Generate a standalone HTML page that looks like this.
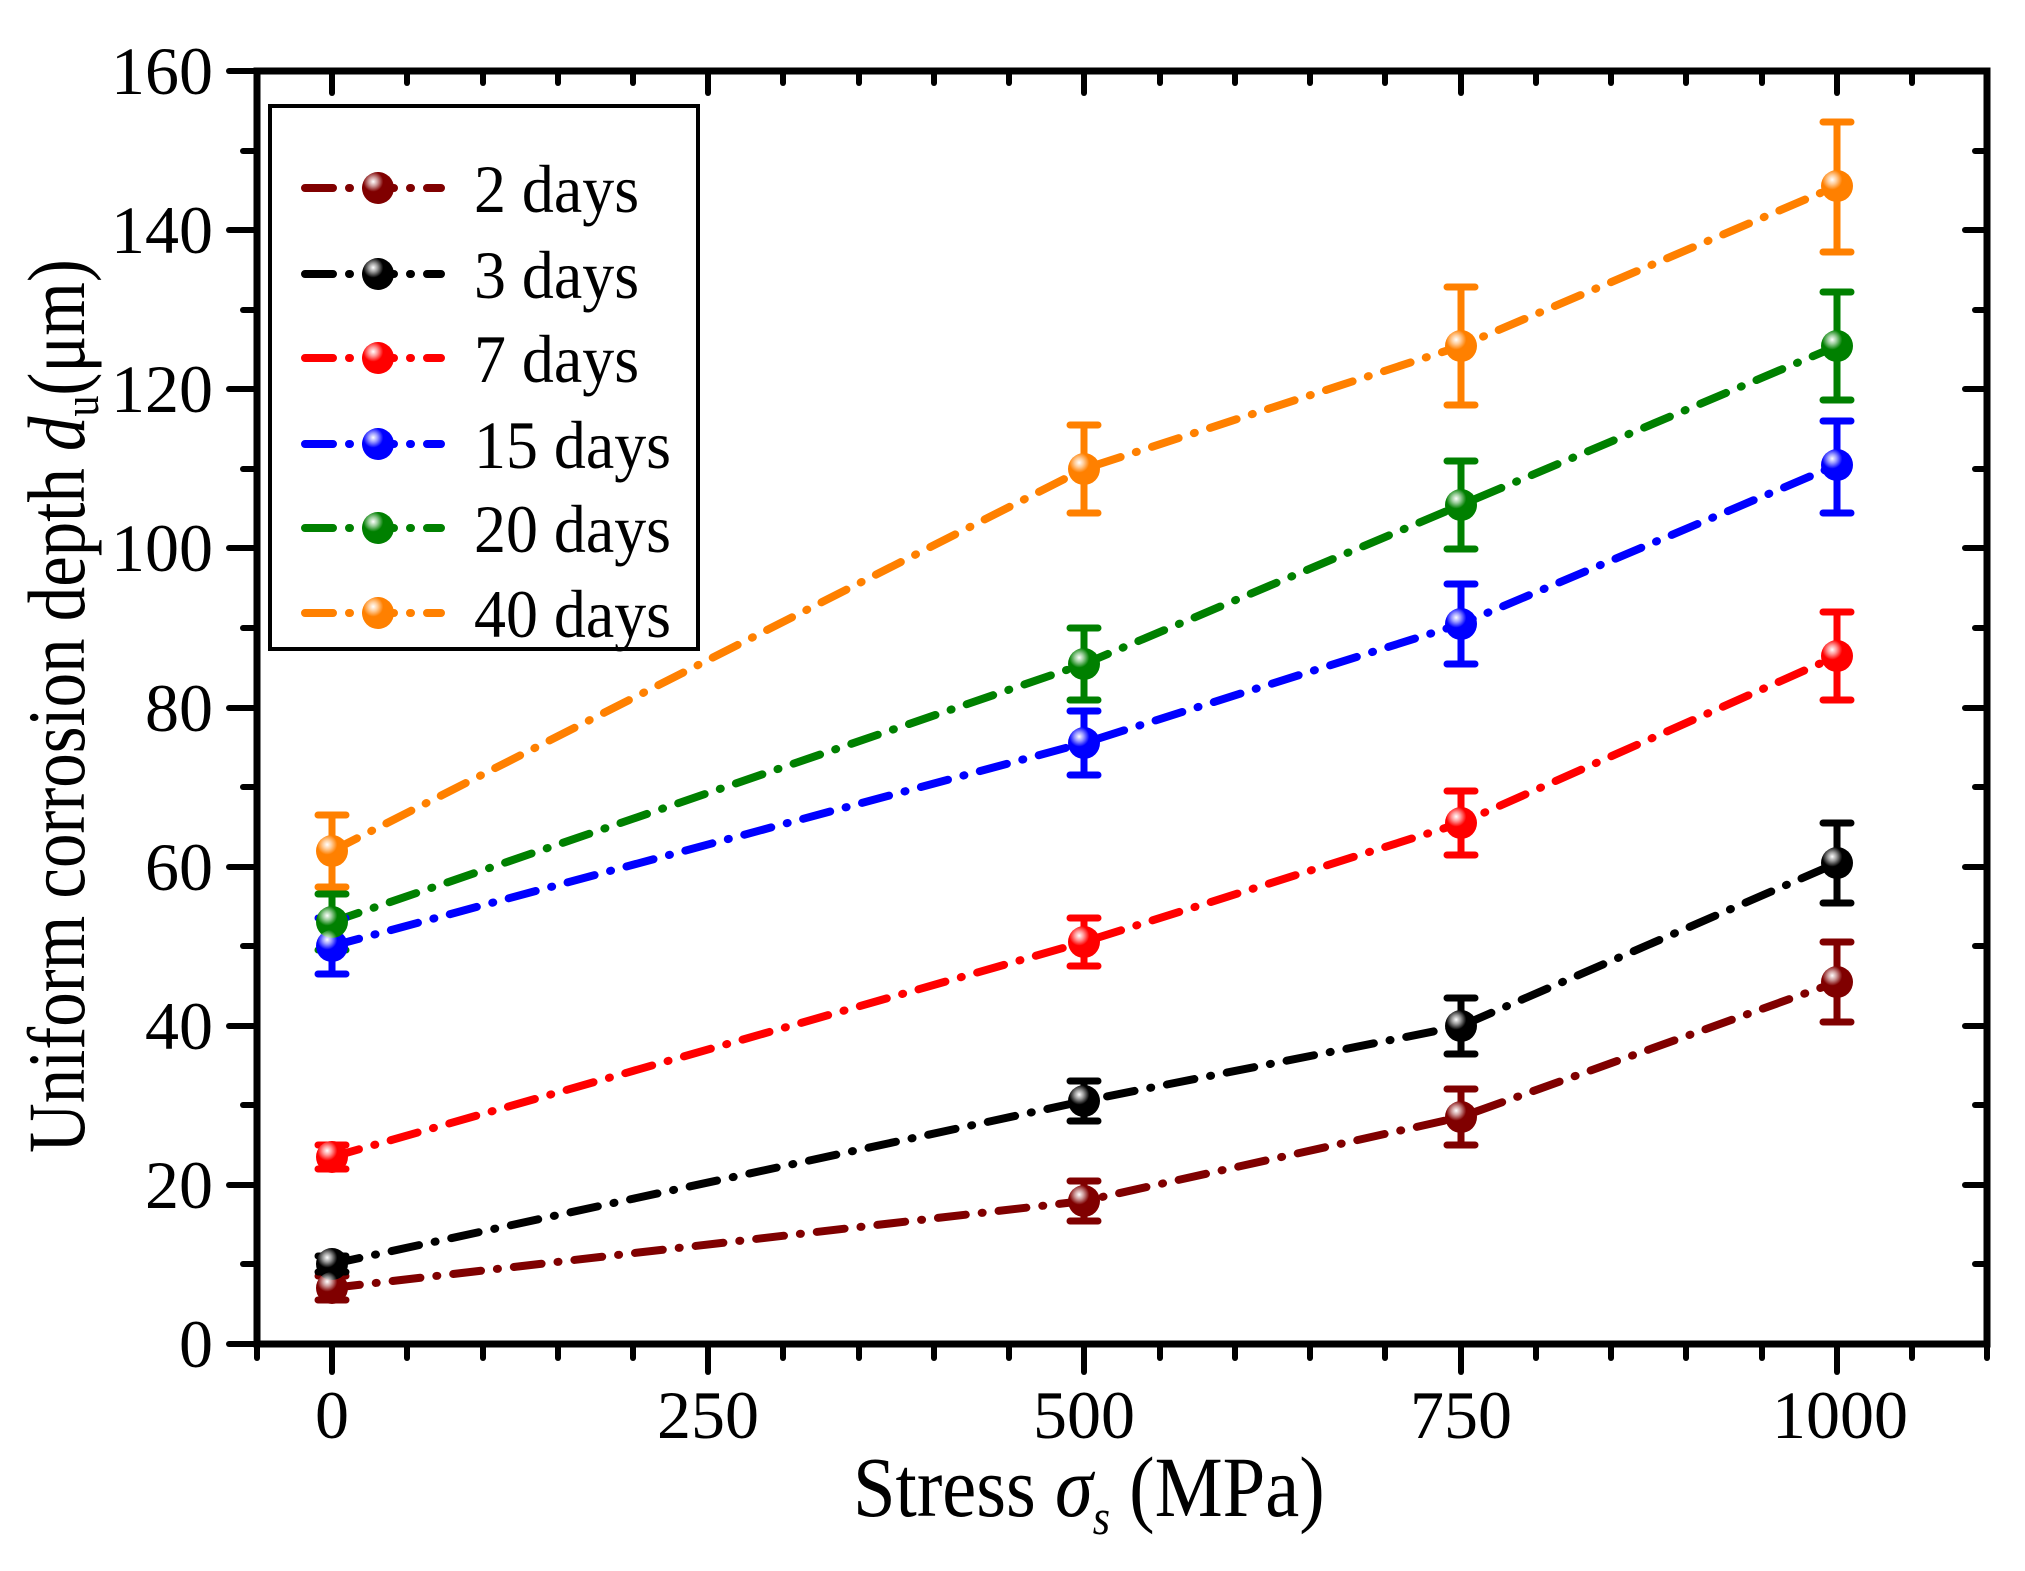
<!DOCTYPE html>
<html><head><meta charset="utf-8"><style>
html,body{margin:0;padding:0;background:#fff;}
svg{display:block;}
text{font-family:"Liberation Serif",serif;fill:#000;}
</style></head><body>
<svg width="2025" height="1571" viewBox="0 0 2025 1571" xmlns="http://www.w3.org/2000/svg">
<defs>
<radialGradient id="hl" cx="0.35" cy="0.3" r="0.7">
<stop offset="0" stop-color="#fff" stop-opacity="1"/>
<stop offset="0.2" stop-color="#fff" stop-opacity="0.6"/>
<stop offset="0.45" stop-color="#fff" stop-opacity="0"/>
</radialGradient>
</defs>
<g stroke="#000" stroke-width="7" fill="none" stroke-linecap="round">
<rect x="257" y="71" width="1730" height="1273"/>
</g>
<g stroke="#000" stroke-width="6" stroke-linecap="round">
<line x1="257" y1="1344" x2="257" y2="1358"/>
<line x1="332" y1="1344" x2="332" y2="1372"/><line x1="407" y1="1344" x2="407" y2="1358"/><line x1="483" y1="1344" x2="483" y2="1358"/><line x1="558" y1="1344" x2="558" y2="1358"/><line x1="633" y1="1344" x2="633" y2="1358"/>
<line x1="708" y1="1344" x2="708" y2="1372"/><line x1="783" y1="1344" x2="783" y2="1358"/><line x1="859" y1="1344" x2="859" y2="1358"/><line x1="934" y1="1344" x2="934" y2="1358"/><line x1="1009" y1="1344" x2="1009" y2="1358"/>
<line x1="1084" y1="1344" x2="1084" y2="1372"/><line x1="1160" y1="1344" x2="1160" y2="1358"/><line x1="1235" y1="1344" x2="1235" y2="1358"/><line x1="1310" y1="1344" x2="1310" y2="1358"/><line x1="1385" y1="1344" x2="1385" y2="1358"/>
<line x1="1461" y1="1344" x2="1461" y2="1372"/><line x1="1536" y1="1344" x2="1536" y2="1358"/><line x1="1611" y1="1344" x2="1611" y2="1358"/><line x1="1686" y1="1344" x2="1686" y2="1358"/><line x1="1762" y1="1344" x2="1762" y2="1358"/>
<line x1="1837" y1="1344" x2="1837" y2="1372"/><line x1="1912" y1="1344" x2="1912" y2="1358"/><line x1="1987" y1="1344" x2="1987" y2="1358"/>
<line x1="332" y1="71" x2="332" y2="93"/><line x1="407" y1="71" x2="407" y2="83"/><line x1="483" y1="71" x2="483" y2="83"/><line x1="558" y1="71" x2="558" y2="83"/><line x1="633" y1="71" x2="633" y2="83"/>
<line x1="708" y1="71" x2="708" y2="93"/><line x1="783" y1="71" x2="783" y2="83"/><line x1="859" y1="71" x2="859" y2="83"/><line x1="934" y1="71" x2="934" y2="83"/><line x1="1009" y1="71" x2="1009" y2="83"/>
<line x1="1084" y1="71" x2="1084" y2="93"/><line x1="1160" y1="71" x2="1160" y2="83"/><line x1="1235" y1="71" x2="1235" y2="83"/><line x1="1310" y1="71" x2="1310" y2="83"/><line x1="1385" y1="71" x2="1385" y2="83"/>
<line x1="1461" y1="71" x2="1461" y2="93"/><line x1="1536" y1="71" x2="1536" y2="83"/><line x1="1611" y1="71" x2="1611" y2="83"/><line x1="1686" y1="71" x2="1686" y2="83"/><line x1="1762" y1="71" x2="1762" y2="83"/>
<line x1="1837" y1="71" x2="1837" y2="93"/><line x1="1912" y1="71" x2="1912" y2="83"/>
<line x1="229" y1="1344" x2="257" y2="1344"/><line x1="243" y1="1264" x2="257" y2="1264"/>
<line x1="229" y1="1185" x2="257" y2="1185"/><line x1="243" y1="1105" x2="257" y2="1105"/>
<line x1="229" y1="1026" x2="257" y2="1026"/><line x1="243" y1="946" x2="257" y2="946"/>
<line x1="229" y1="867" x2="257" y2="867"/><line x1="243" y1="787" x2="257" y2="787"/>
<line x1="229" y1="708" x2="257" y2="708"/><line x1="243" y1="628" x2="257" y2="628"/>
<line x1="229" y1="548" x2="257" y2="548"/><line x1="243" y1="469" x2="257" y2="469"/>
<line x1="229" y1="389" x2="257" y2="389"/><line x1="243" y1="310" x2="257" y2="310"/>
<line x1="229" y1="230" x2="257" y2="230"/><line x1="243" y1="151" x2="257" y2="151"/>
<line x1="229" y1="71" x2="257" y2="71"/>
<line x1="1975" y1="1264" x2="1987" y2="1264"/>
<line x1="1965" y1="1185" x2="1987" y2="1185"/><line x1="1975" y1="1105" x2="1987" y2="1105"/>
<line x1="1965" y1="1026" x2="1987" y2="1026"/><line x1="1975" y1="946" x2="1987" y2="946"/>
<line x1="1965" y1="867" x2="1987" y2="867"/><line x1="1975" y1="787" x2="1987" y2="787"/>
<line x1="1965" y1="708" x2="1987" y2="708"/><line x1="1975" y1="628" x2="1987" y2="628"/>
<line x1="1965" y1="548" x2="1987" y2="548"/><line x1="1975" y1="469" x2="1987" y2="469"/>
<line x1="1965" y1="389" x2="1987" y2="389"/><line x1="1975" y1="310" x2="1987" y2="310"/>
<line x1="1965" y1="230" x2="1987" y2="230"/><line x1="1975" y1="151" x2="1987" y2="151"/>
</g>
<g font-size="68" text-anchor="end">
<text x="213" y="1367">0</text><text x="213" y="1208">20</text><text x="213" y="1049">40</text>
<text x="213" y="890">60</text><text x="213" y="731">80</text><text x="213" y="571">100</text>
<text x="213" y="412">120</text><text x="213" y="253">140</text><text x="213" y="94">160</text>
</g>
<g font-size="68" text-anchor="middle">
<text x="332" y="1438">0</text><text x="708" y="1438">250</text><text x="1084" y="1438">500</text>
<text x="1461" y="1438">750</text><text x="1840" y="1438">1000</text>
</g>
<text transform="translate(853,1516) scale(0.89,1)" font-size="86">Stress <tspan font-style="italic">σ</tspan><tspan font-style="italic" font-size="50" dy="18">s</tspan><tspan dy="-18"> (MPa)</tspan></text>
<text transform="translate(84,1153) rotate(-90) scale(0.84,1)" font-size="82">Uniform corrosion depth <tspan font-style="italic">d</tspan><tspan font-size="50" dy="14">u</tspan><tspan dy="-14">(μm)</tspan></text>
<g fill="none" stroke-width="8" stroke-linecap="round" stroke-dasharray="28 16 1 16">
<polyline stroke="#800000" points="332,1288 1084,1201 1461,1117 1837,982"/>
<polyline stroke="#000000" points="332,1264 1084,1101 1461,1026 1837,863"/>
<polyline stroke="#ff0000" points="332,1157 1084,942 1461,823 1837,656"/>
<polyline stroke="#0000ff" points="332,946 1084,743 1461,624 1837,465"/>
<polyline stroke="#008000" points="332,922 1084,664 1461,505 1837,346"/>
<polyline stroke="#ff8000" points="332,851 1084,469 1461,346 1837,186"/>
</g>
<g stroke-width="7" stroke-linecap="round" fill="none">
<path stroke="#800000" d="M332,1276V1300M318,1276H346M318,1300H346 M1084,1181V1221M1070,1181H1098M1070,1221H1098 M1461,1089V1145M1447,1089H1475M1447,1145H1475 M1837,942V1022M1823,942H1851M1823,1022H1851"/>
<path stroke="#000000" d="M332,1256V1272M318,1256H346M318,1272H346 M1084,1081V1121M1070,1081H1098M1070,1121H1098 M1461,998V1054M1447,998H1475M1447,1054H1475 M1837,823V903M1823,823H1851M1823,903H1851"/>
<path stroke="#ff0000" d="M332,1145V1169M318,1145H346M318,1169H346 M1084,918V966M1070,918H1098M1070,966H1098 M1461,791V855M1447,791H1475M1447,855H1475 M1837,612V700M1823,612H1851M1823,700H1851"/>
<path stroke="#0000ff" d="M332,918V974M318,918H346M318,974H346 M1084,711V775M1070,711H1098M1070,775H1098 M1461,584V664M1447,584H1475M1447,664H1475 M1837,421V513M1823,421H1851M1823,513H1851"/>
<path stroke="#008000" d="M332,894V950M318,894H346M318,950H346 M1084,628V700M1070,628H1098M1070,700H1098 M1461,461V549M1447,461H1475M1447,549H1475 M1837,292V400M1823,292H1851M1823,400H1851"/>
<path stroke="#ff8000" d="M332,815V887M318,815H346M318,887H346 M1084,425V513M1070,425H1098M1070,513H1098 M1461,287V405M1447,287H1475M1447,405H1475 M1837,122V252M1823,122H1851M1823,252H1851"/>
</g>
<g>
<g fill="#800000"><circle cx="332" cy="1288" r="16"/><circle cx="1084" cy="1201" r="16"/><circle cx="1461" cy="1117" r="16"/><circle cx="1837" cy="982" r="16"/></g>
<g fill="#000000"><circle cx="332" cy="1264" r="16"/><circle cx="1084" cy="1101" r="16"/><circle cx="1461" cy="1026" r="16"/><circle cx="1837" cy="863" r="16"/></g>
<g fill="#ff0000"><circle cx="332" cy="1157" r="16"/><circle cx="1084" cy="942" r="16"/><circle cx="1461" cy="823" r="16"/><circle cx="1837" cy="656" r="16"/></g>
<g fill="#0000ff"><circle cx="332" cy="946" r="16"/><circle cx="1084" cy="743" r="16"/><circle cx="1461" cy="624" r="16"/><circle cx="1837" cy="465" r="16"/></g>
<g fill="#008000"><circle cx="332" cy="922" r="16"/><circle cx="1084" cy="664" r="16"/><circle cx="1461" cy="505" r="16"/><circle cx="1837" cy="346" r="16"/></g>
<g fill="#ff8000"><circle cx="332" cy="851" r="16"/><circle cx="1084" cy="469" r="16"/><circle cx="1461" cy="346" r="16"/><circle cx="1837" cy="186" r="16"/></g>
<g fill="url(#hl)">
<circle cx="332" cy="1288" r="16"/><circle cx="1084" cy="1201" r="16"/><circle cx="1461" cy="1117" r="16"/><circle cx="1837" cy="982" r="16"/>
<circle cx="332" cy="1264" r="16"/><circle cx="1084" cy="1101" r="16"/><circle cx="1461" cy="1026" r="16"/><circle cx="1837" cy="863" r="16"/>
<circle cx="332" cy="1157" r="16"/><circle cx="1084" cy="942" r="16"/><circle cx="1461" cy="823" r="16"/><circle cx="1837" cy="656" r="16"/>
<circle cx="332" cy="946" r="16"/><circle cx="1084" cy="743" r="16"/><circle cx="1461" cy="624" r="16"/><circle cx="1837" cy="465" r="16"/>
<circle cx="332" cy="922" r="16"/><circle cx="1084" cy="664" r="16"/><circle cx="1461" cy="505" r="16"/><circle cx="1837" cy="346" r="16"/>
<circle cx="332" cy="851" r="16"/><circle cx="1084" cy="469" r="16"/><circle cx="1461" cy="346" r="16"/><circle cx="1837" cy="186" r="16"/>
</g>
</g>
<rect x="270" y="106" width="428" height="543" fill="#fff" stroke="#000" stroke-width="4"/>
<g fill="none" stroke-width="8" stroke-linecap="round" stroke-dasharray="28 16 1 16">
<line x1="305" y1="188" x2="441" y2="188" stroke="#800000"/>
<line x1="305" y1="274" x2="441" y2="274" stroke="#000000"/>
<line x1="305" y1="358" x2="441" y2="358" stroke="#ff0000"/>
<line x1="305" y1="444" x2="441" y2="444" stroke="#0000ff"/>
<line x1="305" y1="528" x2="441" y2="528" stroke="#008000"/>
<line x1="305" y1="613" x2="441" y2="613" stroke="#ff8000"/>
</g>
<circle cx="378" cy="188" r="16" fill="#800000"/><circle cx="378" cy="274" r="16" fill="#000"/>
<circle cx="378" cy="358" r="16" fill="#ff0000"/><circle cx="378" cy="444" r="16" fill="#0000ff"/>
<circle cx="378" cy="528" r="16" fill="#008000"/><circle cx="378" cy="613" r="16" fill="#ff8000"/>
<g fill="url(#hl)"><circle cx="378" cy="188" r="16"/><circle cx="378" cy="274" r="16"/><circle cx="378" cy="358" r="16"/><circle cx="378" cy="444" r="16"/><circle cx="378" cy="528" r="16"/><circle cx="378" cy="613" r="16"/></g>
<g font-size="68">
<text transform="translate(474,212) scale(0.94,1)">2 days</text>
<text transform="translate(474,298) scale(0.94,1)">3 days</text>
<text transform="translate(474,382) scale(0.94,1)">7 days</text>
<text transform="translate(474,468) scale(0.94,1)">15 days</text>
<text transform="translate(474,552) scale(0.94,1)">20 days</text>
<text transform="translate(474,637) scale(0.94,1)">40 days</text>
</g>
</svg>
</body></html>
